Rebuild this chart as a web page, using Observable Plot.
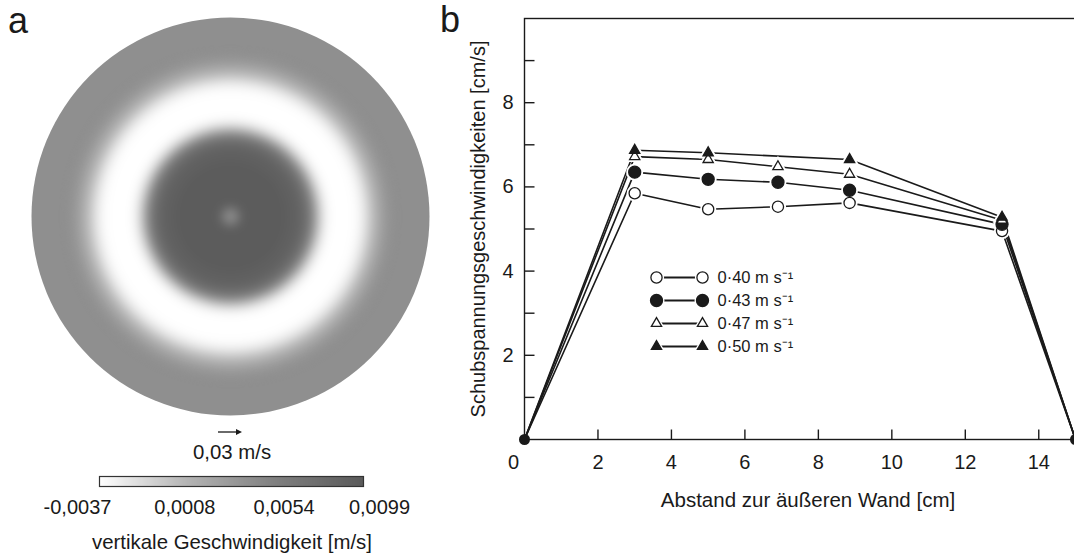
<!DOCTYPE html>
<html>
<head>
<meta charset="utf-8">
<script src="https://cdn.jsdelivr.net/npm/d3@7"></script>
<script src="https://cdn.jsdelivr.net/npm/@observablehq/plot@0.6"></script>
<style>
  body { margin: 0; background: #fff; }
  #page { position: relative; width: 1074px; height: 553px; overflow: hidden; background: #fff;
          font-family: "Liberation Sans", Arial, sans-serif; color: #1a1a1a; }
  .abs { position: absolute; }
  .abs svg { max-width: none; }
</style>
</head>
<body>
<div id="page"></div>
<script>
// ---------- Panel a: vertical velocity over the tank cross-section ----------
// Radial profile (distance from the tank centre in cm, tank radius 15 cm)
const ringRadiusCm = [15, 12.2, 11.6, 11.0, 10.4, 9.8, 9.2, 7.5, 7.1, 6.7, 6.35, 6.0, 5.6, 5.1, 4.2, 1.4, 0.9, 0.6, 0.35];
const ringVelocity = [0.0040, 0.0036, 0.0022, 0.0002, -0.0022, -0.0035, -0.0037, -0.0033, -0.0018, 0.0010, 0.0045, 0.0068, 0.0083, 0.0092, 0.0097, 0.0096, 0.0078, 0.0058, 0.0042];

// Colour bar
const colorbarTicks = [-0.0037, 0.0008, 0.0054, 0.0099];
const colorbarTickLabels = ["-0,0037", "0,0008", "0,0054", "0,0099"];

// ---------- Panel b: friction velocity vs. distance from the outer wall ----------
const wallDistanceCm = [0, 3, 5, 6.9, 8.85, 13, 15];
const ustar040 = [0, 5.85, 5.47, 5.53, 5.62, 4.95, 0];
const ustar043 = [0, 6.35, 6.18, 6.11, 5.92, 5.11, 0];
const ustar047 = [0, 6.72, 6.65, 6.48, 6.30, 5.21, 0];
const ustar050 = [0, 6.87, 6.81, null, 6.65, 5.28, 0];
const seriesNames = ["0·40 m s⁻¹", "0·43 m s⁻¹", "0·47 m s⁻¹", "0·50 m s⁻¹"];

const yTickValues = [1, 2, 3, 4, 5, 6, 7, 8, 9];
const yLabelValues = [2, 4, 6, 8];
const xTickValues = [2, 4, 6, 8, 10, 12, 14];
const xLabelValues = [2, 4, 6, 8, 10, 12, 14];

// ---------- shared settings ----------
const FONT = '"Liberation Sans", Arial, sans-serif';
const INK = "#1a1a1a";
const grayColor = {type: "linear", domain: colorbarTicks, range: ["#ffffff", "#b4b4b4", "#7f7f7f", "#5a5a5a"], interpolate: "rgb"};

const page = document.getElementById("page");
function place(node, left, top) {
  const wrap = document.createElement("div");
  wrap.className = "abs";
  wrap.style.left = left + "px";
  wrap.style.top = top + "px";
  wrap.appendChild(node);
  page.appendChild(wrap);
  return wrap;
}

// ----- disc (rings drawn largest first, centred on the tank axis) -----
const rings = ringRadiusCm.map((r, i) => ({r, v: ringVelocity[i]}));
const disc = Plot.plot({
  width: 460, height: 432, margin: 0,
  style: {background: "transparent"},
  x: {domain: [-1, 1], axis: null},
  y: {domain: [-1, 1], axis: null},
  r: {type: "linear", domain: [0, 15], range: [0, 199]},
  color: grayColor,
  marks: [
    Plot.dot(rings.slice(0, 1), {x: () => 0, y: () => 0, r: "r", fill: "v", stroke: null}),
    Plot.dot(rings.slice(1), {x: () => 0, y: () => 0, r: "r", fill: "v", stroke: null})
  ]
});
// soften the steps between the inner rings (the outer rim stays crisp)
const dotLayers = d3.select(disc).selectAll('g[aria-label="dot"]').nodes();
if (dotLayers[1]) d3.select(dotLayers[1]).style("filter", "blur(4.5px)");
place(disc, 0, 0);

// ----- colour bar -----
const labelShift = [-22, -2, 8, 16];
const colorbar = Plot.plot({
  width: 450, height: 50, marginLeft: 99, marginRight: 87, marginTop: 6, marginBottom: 34,
  style: {background: "transparent", fontFamily: FONT},
  x: {domain: [colorbarTicks[0], colorbarTicks[3]], axis: null},
  y: {domain: [0, 1], axis: null},
  color: grayColor,
  marks: [
    Plot.raster({x1: colorbarTicks[0], x2: colorbarTicks[3], y1: 0, y2: 1, fill: (x, y) => x}),
    Plot.frame({stroke: "#333", strokeWidth: 1.2}),
    ...colorbarTicks.map((t, i) => Plot.text([t], {
      x: d => d, frameAnchor: "bottom", lineAnchor: "top", dy: 13, dx: labelShift[i],
      text: () => colorbarTickLabels[i], fontSize: 20, fill: INK
    }))
  ]
});
place(colorbar, 0, 470);

// ----- velocity scale arrow and titles of panel a -----
const ns = "http://www.w3.org/2000/svg";
const notes = document.createElementNS(ns, "svg");
notes.setAttribute("width", 460);
notes.setAttribute("height", 553);
notes.innerHTML = `
  <line x1="218" y1="432" x2="238" y2="432" stroke="${INK}" stroke-width="1.3"/>
  <path d="M242,432 L236,429 L236,435 Z" fill="${INK}"/>
  <text x="232" y="459" text-anchor="middle" font-family='${FONT}' font-size="20.4" fill="${INK}">0,03 m/s</text>
  <text x="232" y="549" text-anchor="middle" font-family='${FONT}' font-size="20.4" fill="${INK}">vertikale Geschwindigkeit [m/s]</text>`;
place(notes, 0, 0);

// ----- panel b chart -----
const seriesValues = [ustar040, ustar043, ustar047, ustar050];
const markerSymbol = ["circle", "circle", "triangle", "triangle"];
const markerFilled = [false, true, false, true];
const markerRadius = [5.6, 6, 3.8, 3.8];

const rows = seriesValues.flatMap((vals, s) =>
  wallDistanceCm.map((x, i) => ({s, i, x, y: vals[i]})).filter(d => d.y != null));
const inner = rows.filter(d => d.i > 0 && d.i < wallDistanceCm.length - 1);
const wall = rows.filter(d => d.s === 0 && (d.i === 0 || d.i === wallDistanceCm.length - 1));

const tickRight = {draw(ctx) { ctx.moveTo(0, 0); ctx.lineTo(10, 0); }};
const tickUp = {draw(ctx) { ctx.moveTo(0, 0); ctx.lineTo(0, -10); }};

const lineMarks = seriesValues.map((_, s) =>
  Plot.line(rows.filter(d => d.s === s), {x: "x", y: "y", stroke: INK, strokeWidth: 1.6}));
const haloMarks = seriesValues.map((_, s) =>
  Plot.dot(inner.filter(d => d.s === s), {x: "x", y: "y", symbol: markerSymbol[s], r: markerRadius[s],
    fill: "white", stroke: "white", strokeWidth: 5}));
const pointMarks = seriesValues.map((_, s) =>
  Plot.dot(inner.filter(d => d.s === s), {x: "x", y: "y", symbol: markerSymbol[s], r: markerRadius[s],
    fill: markerFilled[s] ? INK : "white", stroke: INK, strokeWidth: 1.3}));

const chartB = Plot.plot({
  width: 636, height: 553, marginLeft: 84, marginRight: 1, marginTop: 18, marginBottom: 114,
  style: {background: "transparent", fontFamily: FONT, fontSize: "20px", color: INK},
  x: {domain: [0, 15]},
  y: {domain: [0, 10]},
  marks: [
    Plot.frame({stroke: INK, strokeWidth: 1.4}),
    Plot.dot(yTickValues, {x: () => 0, y: d => d, symbol: tickRight, stroke: INK, fill: "none", strokeWidth: 1.4}),
    Plot.dot(xTickValues, {x: d => d, y: () => 0, symbol: tickUp, stroke: INK, fill: "none", strokeWidth: 1.4}),
    Plot.axisY({ticks: yLabelValues, tickSize: 0, tickPadding: 11, label: null, fontSize: 20}),
    Plot.axisX({ticks: xLabelValues, tickSize: 0, tickPadding: 15, label: null, fontSize: 20}),
    Plot.text([0], {x: d => d, frameAnchor: "bottom", lineAnchor: "top", dy: 15, dx: -11, text: d => String(d), fontSize: 20}),
    ...lineMarks,
    ...haloMarks,
    ...pointMarks,
    Plot.dot(wall, {x: "x", y: "y", r: 5.5, fill: INK, stroke: null}),
    Plot.text(["Abstand zur äußeren Wand [cm]"], {frameAnchor: "bottom", dy: 61, dx: 8, lineAnchor: "middle", textAnchor: "middle", text: d => d, fontSize: 20.5}),
    Plot.text(["Schubspannungsgeschwindigkeiten [cm/s]"], {frameAnchor: "left", dx: -46, rotate: -90, textAnchor: "middle", lineAnchor: "middle", text: d => d, fontSize: 20})
  ]
});
place(chartB, 440, 0);

// ----- legend inside panel b -----
const legend = Plot.plot({
  width: 200, height: 100, marginLeft: 16, marginRight: 138, marginTop: 15.7, marginBottom: 13,
  style: {background: "transparent", fontFamily: FONT, color: INK},
  x: {domain: [0, 1], axis: null},
  y: {type: "point", domain: seriesNames, padding: 0, axis: null},
  marks: [
    Plot.link(seriesNames, {x1: () => 0, x2: () => 1, y1: d => d, y2: d => d, stroke: INK, strokeWidth: 1.8}),
    ...seriesNames.map((name, s) => Plot.dot([0, 1], {x: d => d, y: () => name, symbol: markerSymbol[s], r: markerRadius[s],
      fill: "white", stroke: "white", strokeWidth: 4})),
    ...seriesNames.map((name, s) => Plot.dot([0, 1], {x: d => d, y: () => name, symbol: markerSymbol[s], r: markerRadius[s],
      fill: markerFilled[s] ? INK : "white", stroke: INK, strokeWidth: 1.3})),
    Plot.text(seriesNames, {x: () => 1, y: d => d, text: d => d, textAnchor: "start", dx: 15, fontSize: 16.5, fill: INK})
  ]
});
place(legend, 640, 260);

// ----- panel letters -----
const letters = document.createElementNS(ns, "svg");
letters.setAttribute("width", 1074);
letters.setAttribute("height", 60);
letters.style.pointerEvents = "none";
letters.innerHTML = `
  <text x="8" y="33" font-family='${FONT}' font-size="36" fill="${INK}">a</text>
  <text x="440" y="32" font-family='${FONT}' font-size="36" fill="${INK}">b</text>`;
place(letters, 0, 0);
</script>
</body>
</html>
